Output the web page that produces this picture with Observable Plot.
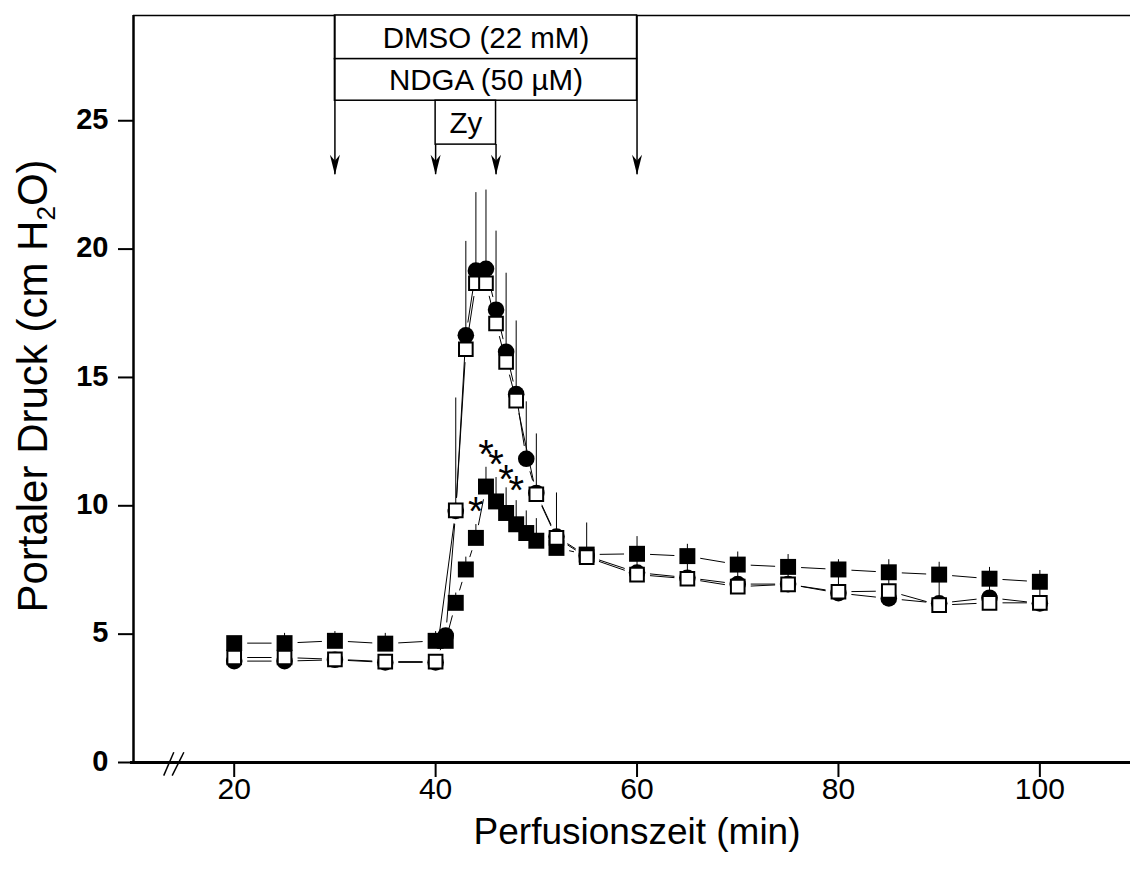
<!DOCTYPE html>
<html>
<head>
<meta charset="utf-8">
<script src="https://cdn.jsdelivr.net/npm/d3@7"></script>
<script src="https://cdn.jsdelivr.net/npm/@observablehq/plot@0.6"></script>
<style>
  html, body { margin: 0; padding: 0; background: #fff; }
  #chart svg { display: block; }
</style>
</head>
<body>
<div id="chart"></div>
<script>
// ---------- data ----------
const times = [20, 25, 30, 35, 40, 41, 42, 43, 44, 45, 46, 47, 48, 49, 50, 52, 55, 60, 65, 70, 75, 80, 85, 90, 95, 100];

// filled circles
const zymosan   = [3.95, 3.95, 4.0, 3.9, 3.9, 4.95, 9.8, 16.64, 19.16, 19.23, 17.64, 16.0, 14.35, 11.83, 10.5, 8.8, 8.05, 7.4, 7.2, 6.95, 6.95, 6.6, 6.39, 6.2, 6.42, 6.2];
const zymosanUp = [null, null, null, null, null, null, 14.2, 20.3, 22.2, 22.3, 20.7, 19.06, 17.2, 14.05, null, null, null, null, null, null, null, null, null, null, null, null];

// open squares
const dmso   = [4.09, 4.09, 4.02, 3.93, 3.93, null, 9.82, 16.1, 18.67, 18.67, 17.1, 15.6, 14.1, null, 10.45, 8.75, 8.0, 7.32, 7.16, 6.85, 6.94, 6.65, 6.68, 6.13, 6.22, 6.22];
const dmsoUp = [null, null, null, null, null, null, null, null, null, null, null, null, null, null, 12.8, 10.5, null, 8.0, 7.9, 7.5, 7.5, 7.3, 7.3, 7.1, 7.0, 6.9];

// filled squares
const ndga   = [4.65, 4.65, 4.74, 4.63, 4.74, 4.74, 6.22, 7.52, 8.75, 10.75, 10.17, 9.72, 9.28, 8.94, 8.64, 8.36, 8.1, 8.13, 8.04, 7.71, 7.62, 7.52, 7.41, 7.32, 7.16, 7.04];
const ndgaUp = [4.9, 5.03, 5.1, 5.03, 5.1, 5.0, 6.6, 8.0, 9.27, 11.5, 11.1, 10.7, 10.2, 9.8, 9.5, 8.9, 9.33, 8.8, 8.5, 8.2, 8.1, 7.9, 7.9, 7.8, 7.6, 7.48];

// significance stars
const starTimes = [44, 45, 46, 47, 48];
const starY     = [9.98, 12.2, 11.8, 11.25, 10.8];

// axes
const xTicks = [20, 40, 60, 80, 100];
const yTicks = [0, 5, 10, 15, 20, 25];
const xLabel = "Perfusionszeit (min)";
const yLabel = "Portaler Druck (cm H2O)";

// treatment boxes (time range, pressure-axis extent)
const treatLabels = ["DMSO (22 mM)", "NDGA (50 µM)", "Zy"];
const treatStart  = [30, 30, 40];
const treatEnd    = [60, 60, 46];
const treatTop    = [29.1, 27.4, 25.78];
const treatBottom = [27.4, 25.78, 24.07];

// arrows
const arrowTimes = [30, 40, 46, 60];
const arrowFrom  = [29.1, 24.07, 24.07, 29.1];
const arrowTip   = 22.9;

// axis break
const breakX1 = [13.0, 13.84];
const breakX2 = [14.0, 15.0];
const breakY1 = -0.51;
const breakY2 = 0.40;

// ---------- layout ----------
const W = 1130, H = 875;
const mL = 133, mR = 0, mT = 15, mB = 113;
const xDom = [10, 109], yDom = [0, 29.1];
const KX = (W - mL - mR) / (xDom[1] - xDom[0]);
const KY = (H - mT - mB) / (yDom[1] - yDom[0]);
const GAP = 13;

function gapSegments(vals) {
  const pts = times.map((t, i) => ({t, v: vals[i]})).filter(d => d.v != null);
  const segs = [];
  for (let i = 0; i < pts.length - 1; i++) {
    const a = pts[i], b = pts[i + 1];
    const dx = (b.t - a.t) * KX, dy = (b.v - a.v) * KY;
    const L = Math.hypot(dx, dy);
    if (L <= 2 * GAP) continue;
    const f = GAP / L;
    segs.push({
      x1: a.t + (b.t - a.t) * f, y1: a.v + (b.v - a.v) * f,
      x2: b.t - (b.t - a.t) * f, y2: b.v - (b.v - a.v) * f
    });
  }
  return segs;
}
function pointsOf(vals, ups) {
  return times.map((t, i) => ({t, v: vals[i], up: ups[i]})).filter(d => d.v != null);
}

const zyPts = pointsOf(zymosan, zymosanUp);
const dmPts = pointsOf(dmso, dmsoUp);
const ndPts = pointsOf(ndga, ndgaUp);
const barsOf = pts => pts.filter(d => d.up != null);

const arrowSymbol = {
  draw(ctx) {
    ctx.moveTo(0, 0);
    ctx.lineTo(-5, -20);
    ctx.lineTo(0, -14);
    ctx.lineTo(5, -20);
    ctx.closePath();
  }
};

const tIdx = d3.range(treatLabels.length);
const aIdx = d3.range(arrowTimes.length);
const sIdx = d3.range(starTimes.length);
const bIdx = d3.range(breakX1.length);

const chart = Plot.plot({
  width: W, height: H,
  marginLeft: mL, marginRight: mR, marginTop: mT, marginBottom: mB,
  style: {fontFamily: "Arial, 'Liberation Sans', sans-serif", background: "white", color: "black", overflow: "visible"},
  x: {domain: xDom},
  y: {domain: yDom},
  marks: [
    // ticks
    Plot.axisX({ticks: xTicks, tickSize: 15, tickFormat: () => "", strokeWidth: 2, label: null}),
    Plot.axisX({ticks: xTicks, tickSize: 0, tickPadding: 15, fontSize: 30, label: null}),
    Plot.axisY({ticks: yTicks, tickSize: 15, tickFormat: () => "", strokeWidth: 2, label: null}),
    Plot.axisY({ticks: yTicks, tickSize: 0, tickPadding: 25, fontSize: 29, fontWeight: "bold", dy: -1, label: null}),

    // connecting lines (with gaps around markers)
    Plot.link(gapSegments(zymosan), {x1: "x1", y1: "y1", x2: "x2", y2: "y2", stroke: "black", strokeWidth: 1}),
    Plot.link(gapSegments(dmso), {x1: "x1", y1: "y1", x2: "x2", y2: "y2", stroke: "black", strokeWidth: 1}),
    Plot.link(gapSegments(ndga), {x1: "x1", y1: "y1", x2: "x2", y2: "y2", stroke: "black", strokeWidth: 1}),

    // error bars (upper)
    Plot.ruleX(barsOf(zyPts), {x: "t", y1: "v", y2: "up", stroke: "black", strokeWidth: 1}),
    Plot.ruleX(barsOf(ndPts), {x: "t", y1: "v", y2: "up", stroke: "black", strokeWidth: 1}),
    Plot.ruleX(barsOf(dmPts), {x: "t", y1: "v", y2: "up", stroke: "black", strokeWidth: 1}),

    // markers
    Plot.dot(zyPts, {x: "t", y: "v", r: 8.3, fill: "black", stroke: "none"}),
    Plot.dot(ndPts, {x: "t", y: "v", r: 9, symbol: "square", fill: "black", stroke: "none"}),
    Plot.dot(dmPts, {x: "t", y: "v", r: 7.7, symbol: "square", fill: "white", stroke: "black", strokeWidth: 2}),

    // stars
    Plot.text(sIdx, {x: i => starTimes[i], y: i => starY[i], text: () => "*", fontSize: 40, dy: 6}),

    // axis lines and frame
    Plot.ruleX([xDom[0]], {y1: yDom[0], y2: yDom[1], strokeWidth: 2.5}),
    Plot.ruleY([yDom[0]], {x1: xDom[0] - 0.3, x2: xDom[1], strokeWidth: 3}),
    Plot.ruleY([yDom[1]], {x1: xDom[0], x2: xDom[1], strokeWidth: 1.5}),

    // axis break
    Plot.link(bIdx, {x1: i => breakX1[i], x2: i => breakX2[i], y1: () => breakY1, y2: () => breakY2, stroke: "black", strokeWidth: 1.5}),

    // treatment boxes
    Plot.rect(tIdx, {x1: i => treatStart[i], x2: i => treatEnd[i], y1: i => treatBottom[i], y2: i => treatTop[i], fill: "white", stroke: "black", strokeWidth: 1.5}),
    Plot.text(tIdx, {x: i => (treatStart[i] + treatEnd[i]) / 2, y: i => (treatTop[i] + treatBottom[i]) / 2, text: i => treatLabels[i], fontSize: 29.5, dy: 1}),

    // arrows
    Plot.ruleX(aIdx, {x: i => arrowTimes[i], y1: i => arrowFrom[i], y2: () => arrowTip, stroke: "black", strokeWidth: 1.5}),
    Plot.dot(aIdx, {x: i => arrowTimes[i], y: () => arrowTip, symbol: arrowSymbol, fill: "black", stroke: "none"}),

    // axis titles
    Plot.text([xLabel], {x: () => 60, frameAnchor: "bottom", text: d => d, fontSize: 37, lineAnchor: "top", dy: 55}),
    Plot.text([yLabel], {frameAnchor: "left", text: d => d, fontSize: 42, rotate: -90, textAnchor: "middle", dx: -100, dy: -3})
  ]
});

document.getElementById("chart").appendChild(chart);

// subscript in the y title
d3.select(chart).selectAll("text").filter(function() { return this.textContent === yLabel; })
  .each(function() {
    const t = d3.select(this);
    t.text(null);
    t.append("tspan").text("Portaler Druck (cm H");
    t.append("tspan").attr("font-size", "0.62em").attr("dy", "0.32em").text("2");
    t.append("tspan").attr("dy", "-0.2em").text("O)");
  });
</script>
</body>
</html>
